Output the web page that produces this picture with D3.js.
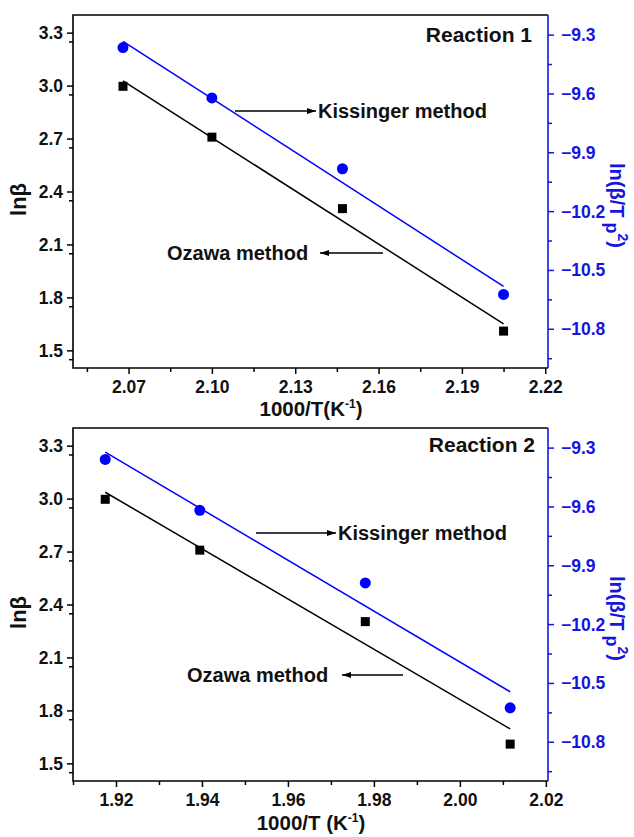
<!DOCTYPE html>
<html><head><meta charset="utf-8">
<script src="https://cdn.jsdelivr.net/npm/d3@7"></script>
<style>body{margin:0;background:#fff}svg{display:block}text{font-family:"Liberation Sans",Arial,sans-serif;font-weight:bold}</style>
</head><body>
<script>
// ---- data ----
const r1X = [2.068, 2.100, 2.147, 2.205];
const r1LnBeta = [2.996, 2.708, 2.303, 1.609];
const r1Kiss = [-9.366, -9.623, -9.984, -10.625];
const r1OzawaFit = [[2.068, 3.027], [2.205, 1.650]];
const r1KissFit = [[2.068, -9.334], [2.205, -10.584]];

const r2X = [1.9175, 1.9395, 1.978, 2.0117];
const r2LnBeta = [2.996, 2.708, 2.303, 1.609];
const r2Kiss = [-9.36, -9.62, -9.99, -10.627];
const r2OzawaFit = [[1.9175, 3.036], [2.0117, 1.695]];
const r2KissFit = [[1.9175, -9.323], [2.0117, -10.545]];

const r1XTicks = [2.07, 2.10, 2.13, 2.16, 2.19, 2.22];
const r2XTicks = [1.92, 1.94, 1.96, 1.98, 2.00, 2.02];
const leftTicks = [1.5, 1.8, 2.1, 2.4, 2.7, 3.0, 3.3];
const rightTicks = [-10.8, -10.5, -10.2, -9.9, -9.6, -9.3];

const BLUE = "#0000ff", AXBLUE = "#1515e0";
const W = 634, H = 837;
const svg = d3.select("body").append("svg").attr("width", W).attr("height", H);

function panel(cfg) {
  const L = 73, R = 548, T = cfg.top, B = cfg.top + 353;
  const g = svg.append("g");
  const x = d3.scaleLinear().domain(cfg.xDomain).range([L, R]);
  const yL = d3.scaleLinear().domain([1.4, 3.4]).range([B, T]);
  const yR = d3.scaleLinear().domain([-11.0, -9.2]).range([B, T]);

  const xMinor = cfg.xMinor;
  const lMinor = d3.range(1.45, 3.4, 0.3);
  const rMinor = [-10.95, -10.65, -10.35, -10.05, -9.75, -9.45];
  const TF = 17.5;

  // x axis
  const xa = g.append("g").attr("transform", `translate(0,${B})`)
    .call(d3.axisBottom(x).tickValues(cfg.xTicks).tickSize(6).tickSizeOuter(0).tickFormat(d3.format(".2f")));
  xa.select(".domain").remove();
  xa.selectAll("line").attr("stroke", "#000").attr("stroke-width", 1.5);
  xa.selectAll("text").attr("font-size", TF).attr("fill", "#111").attr("y", 25).attr("dy", 0);
  const xm = g.append("g").attr("transform", `translate(0,${B})`)
    .call(d3.axisBottom(x).tickValues(xMinor).tickSize(4).tickFormat(""));
  xm.select(".domain").remove();
  xm.selectAll("line").attr("stroke", "#000").attr("stroke-width", 1.5);

  // left axis
  const la = g.append("g").attr("transform", `translate(${L},0)`)
    .call(d3.axisLeft(yL).tickValues(leftTicks).tickSize(6).tickFormat(d3.format(".1f")));
  la.select(".domain").remove();
  la.selectAll("line").attr("stroke", "#000").attr("stroke-width", 1.5);
  la.selectAll("text").attr("font-size", TF).attr("fill", "#111").attr("x", -10).attr("dy", "0.34em");
  const lm = g.append("g").attr("transform", `translate(${L},0)`)
    .call(d3.axisLeft(yL).tickValues(lMinor).tickSize(4).tickFormat(""));
  lm.select(".domain").remove();
  lm.selectAll("line").attr("stroke", "#000").attr("stroke-width", 1.5);

  // right axis
  const ra = g.append("g").attr("transform", `translate(${R},0)`)
    .call(d3.axisRight(yR).tickValues(rightTicks).tickSize(6).tickFormat(d3.format(".1f")));
  ra.select(".domain").remove();
  ra.selectAll("line").attr("stroke", AXBLUE).attr("stroke-width", 1.5);
  ra.selectAll("text").attr("font-size", TF).attr("fill", AXBLUE).attr("x", 13).attr("dy", "0.34em");
  const rm = g.append("g").attr("transform", `translate(${R},0)`)
    .call(d3.axisRight(yR).tickValues(rMinor).tickSize(4).tickFormat(""));
  rm.select(".domain").remove();
  rm.selectAll("line").attr("stroke", AXBLUE).attr("stroke-width", 1.5);

  // frame
  g.append("path").attr("d", `M${R},${T}H${L}V${B}H${R}`).attr("fill", "none").attr("stroke", "#000").attr("stroke-width", 1.6);
  g.append("line").attr("x1", R).attr("x2", R).attr("y1", T).attr("y2", B).attr("stroke", AXBLUE).attr("stroke-width", 1.6);

  // fit lines
  const lineL = d3.line().x(d => x(d[0])).y(d => yL(d[1]));
  const lineR = d3.line().x(d => x(d[0])).y(d => yR(d[1]));
  g.append("path").attr("d", lineL(cfg.ozFit)).attr("stroke", "#000").attr("stroke-width", 1.5).attr("fill", "none");
  g.append("path").attr("d", lineR(cfg.kiFit)).attr("stroke", BLUE).attr("stroke-width", 1.5).attr("fill", "none");

  // markers
  g.selectAll(".sq").data(cfg.xs.map((v, i) => [v, cfg.lnb[i]])).join("rect")
    .attr("x", d => x(d[0]) - 4.5).attr("y", d => yL(d[1]) - 4.5).attr("width", 9).attr("height", 9).attr("fill", "#000");
  g.selectAll(".ci").data(cfg.xs.map((v, i) => [v, cfg.kiss[i]])).join("circle")
    .attr("cx", d => x(d[0])).attr("cy", d => yR(d[1])).attr("r", 5.5).attr("fill", BLUE);

  // annotations
  g.append("text").attr("x", cfg.title[0]).attr("y", cfg.title[1]).attr("text-anchor", "end").attr("font-size", 21).attr("fill", "#111").text(cfg.titleText);
  const arrow = (x1, x2, y) => {
    g.append("line").attr("x1", x1).attr("x2", x2).attr("y1", y).attr("y2", y).attr("stroke", "#000").attr("stroke-width", 1.3);
    const s = Math.sign(x2 - x1);
    g.append("path").attr("d", `M${x2},${y}L${x2 - s * 9},${y - 3}L${x2 - s * 9},${y + 3}Z`).attr("fill", "#000");
  };
  arrow(cfg.kArrow[0], cfg.kArrow[1], cfg.kArrow[2]);
  g.append("text").attr("x", cfg.kText[0]).attr("y", cfg.kText[1]).attr("font-size", 20).attr("fill", "#111").text("Kissinger method");
  arrow(cfg.oArrow[0], cfg.oArrow[1], cfg.oArrow[2]);
  g.append("text").attr("x", cfg.oText[0]).attr("y", cfg.oText[1]).attr("font-size", 20).attr("fill", "#111").text("Ozawa method");

  // axis titles
  const midY = (T + B) / 2;
  g.append("text").attr("transform", `translate(26,${midY + 8}) rotate(-90)`).attr("text-anchor", "middle").attr("font-size", 22).attr("fill", "#111").text("lnβ");
  const rt = g.append("text").attr("transform", `translate(610,${midY + 14}) rotate(90)`).attr("text-anchor", "middle").attr("font-size", 20).attr("fill", AXBLUE);
  rt.append("tspan").text("ln(β/T");
  rt.append("tspan").attr("dy", 4).attr("font-size", 18).text(" p");
  rt.append("tspan").attr("dy", -12).attr("font-size", 14).text("2");
  rt.append("tspan").attr("dy", 8).text(")");
  const xt = g.append("text").attr("x", 311).attr("y", B + cfg.xLabDy).attr("text-anchor", "middle").attr("font-size", 20.5).attr("fill", "#111");
  xt.append("tspan").text(cfg.xLab);
  xt.append("tspan").attr("dy", -8).attr("font-size", 12).text("-1");
  xt.append("tspan").attr("dy", 8).text(")");
}

panel({
  top: 15, xDomain: [2.05, 2.221], xTicks: r1XTicks, xMinor: [2.055, 2.085, 2.115, 2.145, 2.175, 2.205],
  xs: r1X, lnb: r1LnBeta, kiss: r1Kiss, ozFit: r1OzawaFit, kiFit: r1KissFit,
  titleText: "Reaction 1", title: [532, 42],
  kArrow: [235, 316, 111], kText: [318, 118],
  oArrow: [383, 320, 253], oText: [167, 260],
  xLab: "1000/T(K", xLabDy: 48
});
panel({
  top: 428, xDomain: [1.91, 2.0205], xTicks: r2XTicks, xMinor: [1.91, 1.93, 1.95, 1.97, 1.99, 2.01],
  xs: r2X, lnb: r2LnBeta, kiss: r2Kiss, ozFit: r2OzawaFit, kiFit: r2KissFit,
  titleText: "Reaction 2", title: [535, 452],
  kArrow: [256, 336, 533], kText: [338, 540],
  oArrow: [403, 342, 675], oText: [187, 682],
  xLab: "1000/T (K", xLabDy: 49
});
</script>
</body></html>
